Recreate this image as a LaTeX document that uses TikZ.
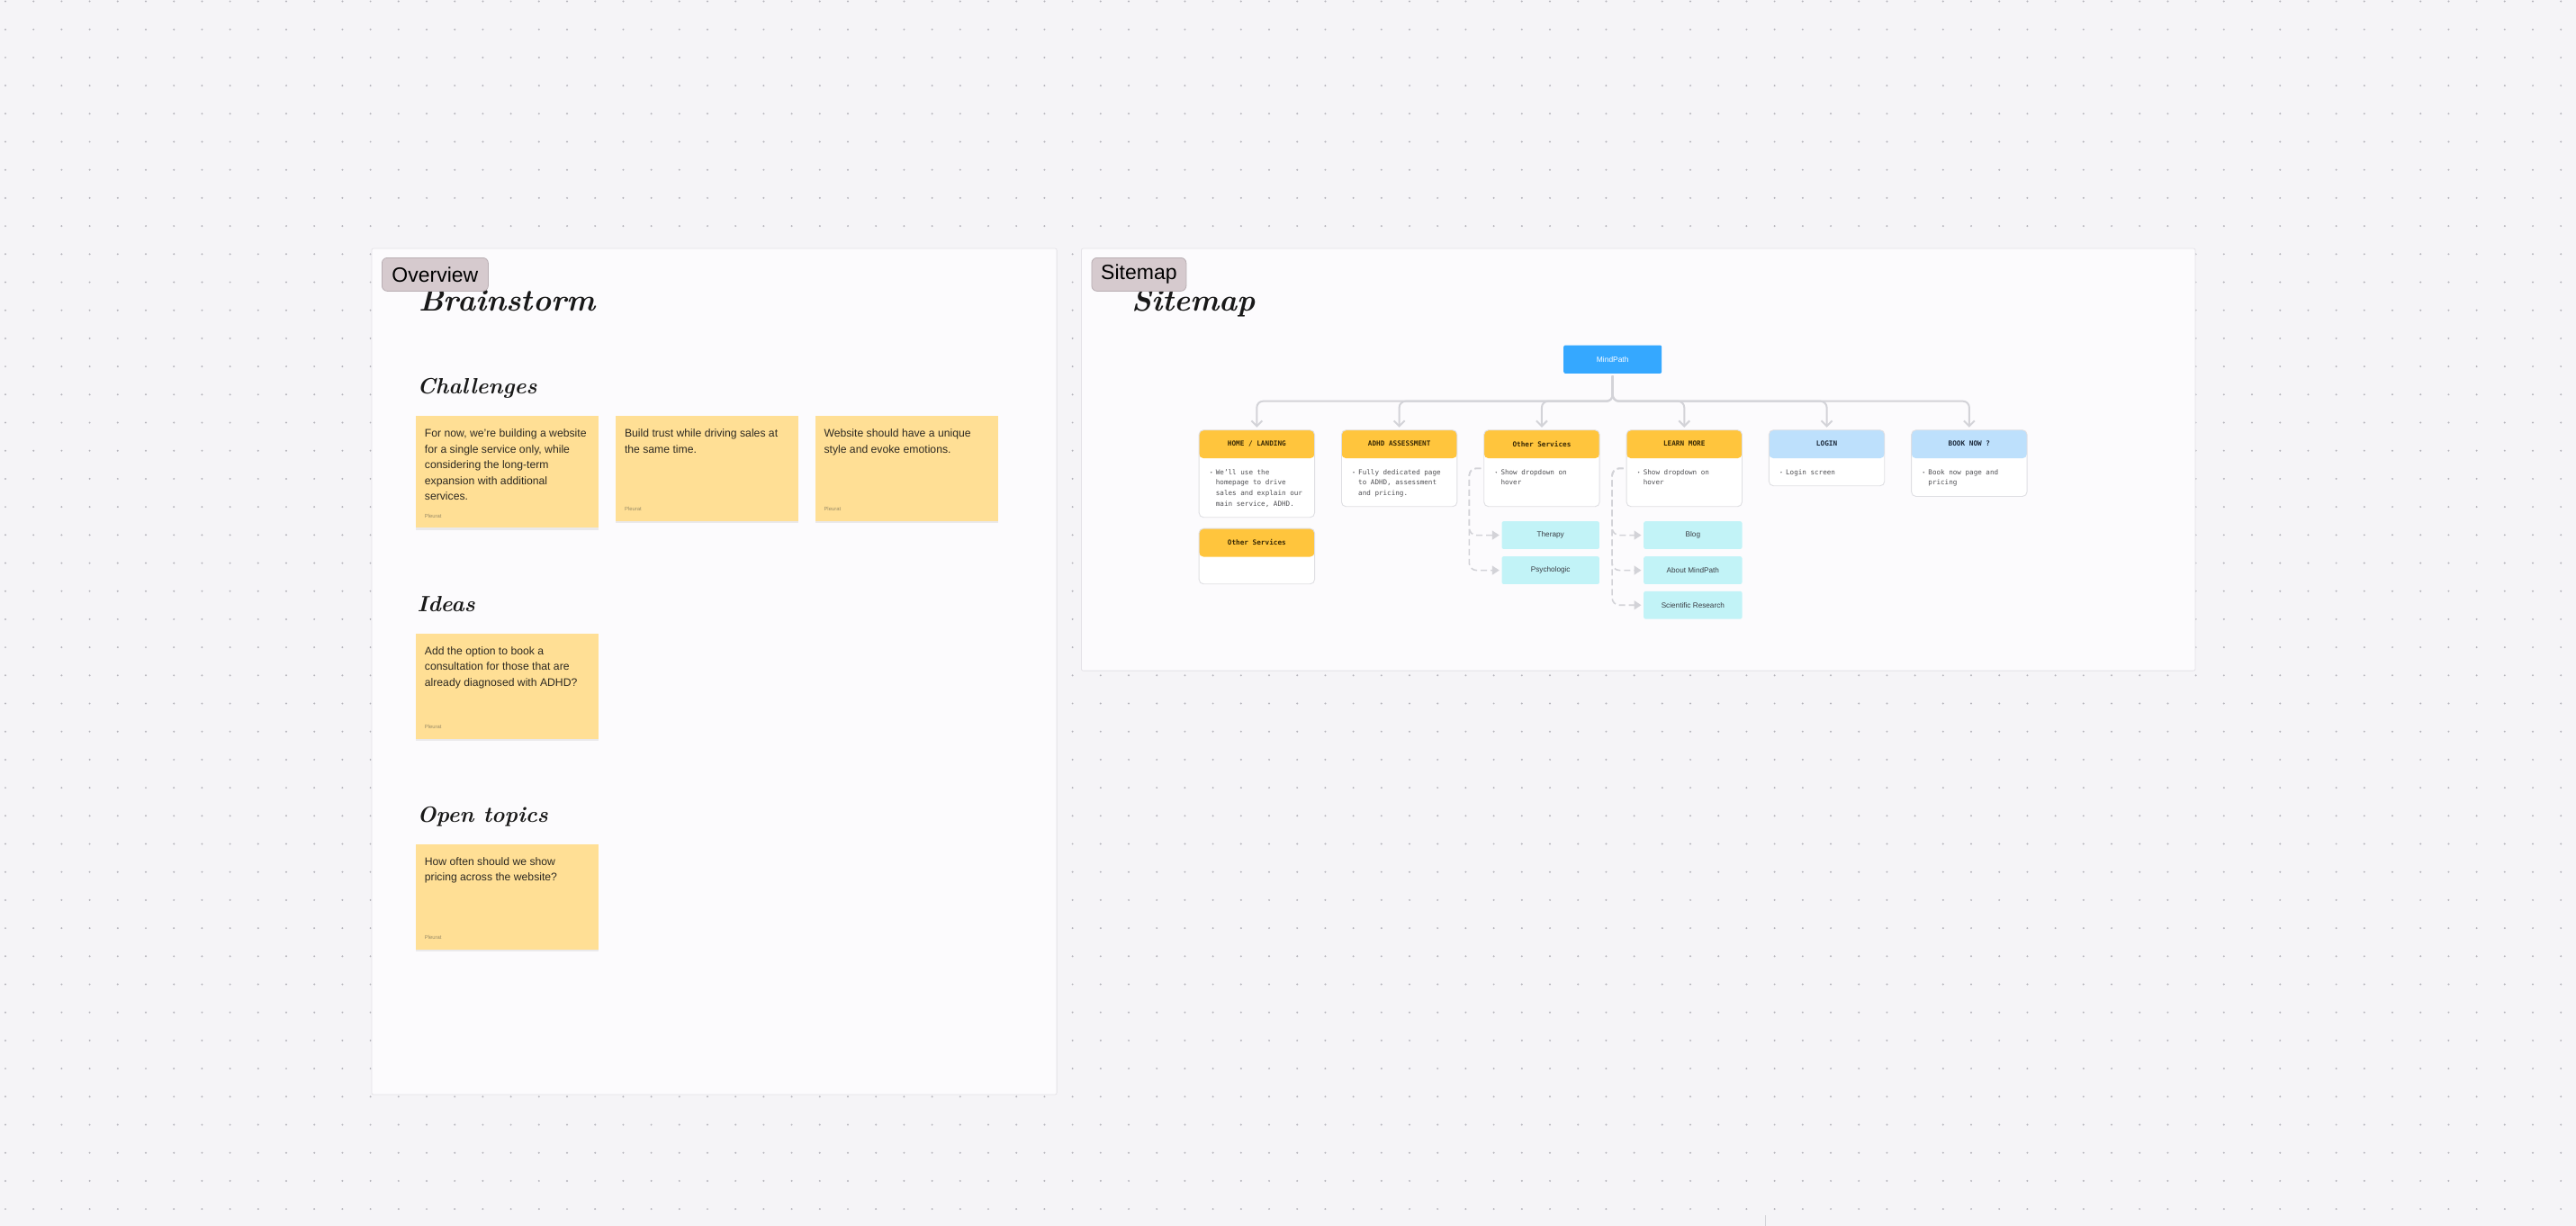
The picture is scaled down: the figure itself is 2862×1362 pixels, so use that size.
\documentclass[tikz,border=0pt]{standalone}
\usepackage{fontspec}
\usetikzlibrary{arrows.meta,calc,shadows}
\newfontfamily\sansf{Liberation Sans}
\newfontfamily\monof{DejaVu Sans Mono}
\definecolor{bg}{HTML}{F5F4F7}
\definecolor{dotc}{HTML}{B5B4BB}
\definecolor{framefill}{HTML}{FCFBFD}
\definecolor{frameline}{HTML}{E4E2E7}
\definecolor{tagfill}{HTML}{D6CACE}
\definecolor{tagline}{HTML}{B9AEB3}
\definecolor{stickyc}{HTML}{FFDF95}
\definecolor{stickyink}{HTML}{2E2A22}
\definecolor{pleuratc}{HTML}{9C8D66}
\definecolor{hdrO}{HTML}{FFC53D}
\definecolor{hdrB}{HTML}{BDE0FC}
\definecolor{cardline}{HTML}{DFDFE3}
\definecolor{hdrinkO}{HTML}{3A2A05}
\definecolor{hdrinkB}{HTML}{1E2B3C}
\definecolor{bodyink}{HTML}{505054}
\definecolor{mpc}{HTML}{35A8FF}
\definecolor{cyanc}{HTML}{C2F3F7}
\definecolor{cyanink}{HTML}{3A3D44}
\definecolor{connc}{HTML}{D3D3D8}
\newcommand\textlines[6]{%
  \foreach \ln [count=\k from 0] in {#6}{\node[#5, anchor=base west] (#1\k) at ({#2},{#3+\k*#4}) {\ln};}}
\tikzset{
  framebox/.style={draw=frameline, fill=framefill, line width=0.8pt, rounded corners=2pt, anchor=north west, inner sep=0pt},
  tagbox/.style={draw=tagline, fill=tagfill, line width=0.8pt, rounded corners=6pt, anchor=north west, inner sep=0pt, font=\sansf\fontsize{23}{26}\selectfont, text=black},
  handtitle/.style={anchor=base west, inner sep=0pt, font=\bfseries\itshape\fontsize{34}{38}\selectfont, text=black!90},
  handhead/.style={anchor=base west, inner sep=0pt, font=\bfseries\itshape\fontsize{24.5}{28}\selectfont, text=black!90},
  sticky/.style={fill=stickyc, anchor=north west, minimum width=203pt, inner sep=0pt, drop shadow={shadow xshift=0pt,shadow yshift=-2.5pt,opacity=0.07,fill=black}},
  stickytext/.style={font=\sansf\fontsize{12.2}{14}\selectfont, text=stickyink, inner sep=0pt},
  pleurat/.style={font=\sansf\fontsize{5.9}{7}\selectfont, text=pleuratc, inner sep=0pt, anchor=west},
  cardbox/.style={draw=cardline, fill=white, line width=0.9pt, rounded corners=5pt, anchor=north west, minimum width=128.4pt, inner sep=0pt},
  cardO/.style={cardbox, path picture={\fill[hdrO] (path picture bounding box.north west) rectangle ([yshift=-31.4pt]path picture bounding box.north east);}},
  cardB/.style={cardbox, path picture={\fill[hdrB] (path picture bounding box.north west) rectangle ([yshift=-31.4pt]path picture bounding box.north east);}},
  hdrtextO/.style={font=\monof\bfseries\fontsize{7.7}{9}\selectfont, text=hdrinkO, inner sep=0pt},
  hdrtextB/.style={font=\monof\bfseries\fontsize{7.7}{9}\selectfont, text=hdrinkB, inner sep=0pt},
  bodytext/.style={font=\monof\fontsize{7.6}{9}\selectfont, text=bodyink, inner sep=0pt},
  subpage/.style={fill=cyanc, rounded corners=2pt, anchor=north west, minimum height=30.7pt, inner sep=0pt, font=\sansf\fontsize{8.2}{10}\selectfont, text=cyanink},
  rootbox/.style={fill=mpc, rounded corners=2pt, anchor=north west, minimum width=109pt, minimum height=31.4pt, inner sep=0pt, font=\sansf\fontsize{8.4}{10}\selectfont, text=white},
  conn/.style={draw=connc, line width=2pt, rounded corners=7pt, -{Straight Barb[length=6pt,width=12pt,line width=2pt]}, shorten >=2.5pt, shorten <=2.5pt},
  dconn/.style={draw=connc, line width=1.6pt, dash pattern=on 7pt off 4pt, rounded corners=8pt, -{Triangle[length=8pt,width=10pt]}, shorten >=2.5pt},
  dotrow/.style={draw=dotc, line width=2.2pt, line cap=round, dash pattern=on 0pt off 31.2pt},
}
\newcommand\bdot[2]{\fill[bodyink!80] (#1,#2) circle[radius=0.85];}
\begin{document}
\begin{tikzpicture}[x=1pt,y=-1pt]
\useasboundingbox (0,0) rectangle (2862,1362);
\fill[bg] (0,0) rectangle (2862,1362);
\foreach \j in {0,...,43}{\draw[dotrow] (6,1.5+\j*31.2) -- (2862,1.5+\j*31.2);}
\coordinate (tk1) at (1961,1350);
\coordinate (tk2) at (1961,1362);
\draw[connc, line width=1pt] (tk1) -- (tk2);

% frames
\node[framebox, minimum width=761.2pt, minimum height=940pt] (fl) at (412.5,275.6) {};
\node[framebox, minimum width=1237.6pt, minimum height=469.1pt] (fr) at (1201,275.6) {};

% titles
\node[handtitle] (tb) at (465,345) {Brainstorm};
\node[handtitle] (ts) at (1257,345) {Sitemap};
\node[tagbox, minimum width=118pt, minimum height=37pt] (tagO) at (424,286) {Overview};
\node[tagbox, minimum width=105pt, minimum height=37pt] (tagS) at (1212.5,286) {Sitemap};

\node[handhead] (hc) at (463.5,437) {Challenges};
\node[handhead] (hi) at (463.5,679) {Ideas};
\node[handhead] (ho) at (463.5,913) {Open topics};

% stickies
\node[sticky, minimum height=124pt] (c1) at (462,462) {};
\node[sticky, minimum height=116.3pt] (c2) at (684.2,462) {};
\node[sticky, minimum height=116.3pt] (c3) at (905.6,462) {};
\node[sticky, minimum height=116.7pt] (i1) at (462,704) {};
\node[sticky, minimum height=117pt] (o1) at (462,937.7) {};

\textlines{c1l}{471.7}{485.5}{17.5}{stickytext}{{For now, we’re building a website},{for a single service only, while},{considering the long-term},{expansion with additional},{services.}}
\textlines{c2l}{693.8}{485.5}{17.5}{stickytext}{{Build trust while driving sales at},{the same time.}}
\textlines{c3l}{915.3}{485.5}{17.5}{stickytext}{{Website should have a unique},{style and evoke emotions.}}
\textlines{i1l}{471.7}{727}{17.6}{stickytext}{{Add the option to book a},{consultation for those that are},{already diagnosed with ADHD?}}
\textlines{o1l}{471.7}{961}{17.6}{stickytext}{{How often should we show},{pricing across the website?}}

\node[pleurat] (c1p) at ([xshift=9.7pt,yshift=13.5pt]c1.south west) {Pleurat};
\node[pleurat] (c2p) at ([xshift=9.7pt,yshift=13.5pt]c2.south west) {Pleurat};
\node[pleurat] (c3p) at ([xshift=9.7pt,yshift=13.5pt]c3.south west) {Pleurat};
\node[pleurat] (i1p) at ([xshift=9.7pt,yshift=13.5pt]i1.south west) {Pleurat};
\node[pleurat] (o1p) at ([xshift=9.7pt,yshift=13.5pt]o1.south west) {Pleurat};

% sitemap
\node[rootbox] (mp) at (1737,383.3) {MindPath};

\node[cardO, minimum height=97pt] (h1) at (1331.7,477.3) {};
\node[cardO, minimum height=85pt] (h2) at (1490,477.3) {};
\node[cardO, minimum height=85pt] (h3) at (1648.3,477.3) {};
\node[cardO, minimum height=85pt] (h4) at (1806.6,477.3) {};
\node[cardB, minimum height=62pt] (h5) at (1964.9,477.3) {};
\node[cardB, minimum height=73.7pt] (h6) at (2123.2,477.3) {};
\node[cardO, minimum height=61.6pt] (h7) at (1331.7,586.7) {};

\node[hdrtextO] (h1t) at ([yshift=-15.7pt]h1.north) {HOME / LANDING};
\node[hdrtextO] (h2t) at ([yshift=-15.7pt]h2.north) {ADHD ASSESSMENT};
\node[hdrtextO] (h3t) at ([yshift=-15.7pt]h3.north) {Other Services};
\node[hdrtextO] (h4t) at ([yshift=-15.7pt]h4.north) {LEARN MORE};
\node[hdrtextB] (h5t) at ([yshift=-15.7pt]h5.north) {LOGIN};
\node[hdrtextB] (h6t) at ([yshift=-15.7pt]h6.north) {BOOK NOW ?};
\node[hdrtextO] (h7t) at ([yshift=-15.7pt]h7.north) {Other Services};

\bdot{1345.7}{524.7}
\textlines{h1b}{1350.7}{527}{11.7}{bodytext}{{We’ll use the},{homepage to drive},{sales and explain our},{main service, ADHD.}}
\bdot{1504}{524.7}
\textlines{h2b}{1509}{527}{11.7}{bodytext}{{Fully dedicated page},{to ADHD, assessment},{and pricing.}}
\bdot{1662.3}{524.7}
\textlines{h3b}{1667.3}{527}{11.7}{bodytext}{{Show dropdown on},{hover}}
\bdot{1820.6}{524.7}
\textlines{h4b}{1825.6}{527}{11.7}{bodytext}{{Show dropdown on},{hover}}
\bdot{1978.9}{524.7}
\textlines{h5b}{1983.9}{527}{11.7}{bodytext}{{Login screen}}
\bdot{2137.2}{524.7}
\textlines{h6b}{2142.2}{527}{11.7}{bodytext}{{Book now page and},{pricing}}

\node[subpage, minimum width=108.4pt] (th) at (1668.3,579) {Therapy};
\node[subpage, minimum width=108.4pt] (ps) at (1668.3,618) {Psychologic};
\node[subpage, minimum width=109.3pt] (bl) at (1826,579) {Blog};
\node[subpage, minimum width=109.3pt] (ab) at (1826,618) {About MindPath};
\node[subpage, minimum width=109.3pt] (sr) at (1826,656.7) {Scientific Research};

% tree connectors
\coordinate (bus) at (0,445.7);
\foreach \c in {h1,h2,h3,h4,h5,h6}{
  \draw[conn] (mp.south) -- (mp.south |- bus) -- (\c.north |- bus) -- (\c.north);
}

% dropdown connectors
\coordinate (osa) at ([xshift=-3pt,yshift=-43pt]h3.north west);
\coordinate (osv) at ([xshift=-16pt,yshift=-43pt]h3.north west);
\draw[dconn] (osa) -- (osv) -- (osv |- th.west) -- (th.west);
\draw[dconn] (osa) -- (osv) -- (osv |- ps.west) -- (ps.west);
\coordinate (lma) at ([xshift=-3pt,yshift=-43pt]h4.north west);
\coordinate (lmv) at ([xshift=-15.5pt,yshift=-43pt]h4.north west);
\draw[dconn] (lma) -- (lmv) -- (lmv |- bl.west) -- (bl.west);
\draw[dconn] (lma) -- (lmv) -- (lmv |- ab.west) -- (ab.west);
\draw[dconn] (lma) -- (lmv) -- (lmv |- sr.west) -- (sr.west);
\end{tikzpicture}
\end{document}
